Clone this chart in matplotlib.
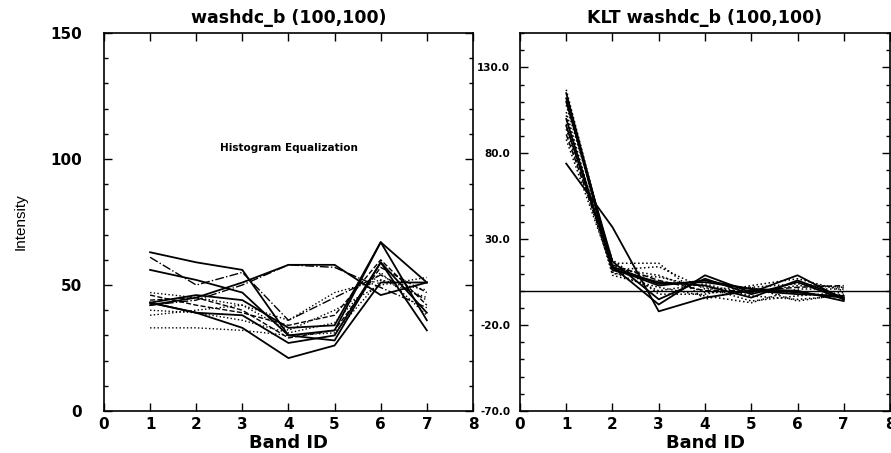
import matplotlib
matplotlib.use('Agg')
import matplotlib.pyplot as plt
from matplotlib.ticker import MultipleLocator, FixedLocator, FormatStrFormatter

plt.rcParams['font.family'] = ['DejaVu Sans']

bands = [1, 2, 3, 4, 5, 6, 7]

# Histogram equalized intensities, one list per pixel
left_lines = [
    [63, 59, 56, 30, 32, 67, 51],
    [42, 45, 51, 58, 58, 46, 51],
    [43, 39, 38, 27, 30, 59, 39],
    [43, 39, 33, 21, 26, 51, 51],
    [56, 52, 47, 30, 28, 59, 32],
    [43, 46, 44, 33, 34, 67, 36],
    [61, 50, 55, 36, 45, 54, 44],
    [47, 45, 42, 36, 47, 52, 48],
    [33, 33, 32, 30, 31, 52, 45],
    [38, 40, 42, 32, 40, 50, 53],
    [44, 45, 40, 29, 32, 57, 47],
    [42, 44, 50, 58, 57, 49, 41],
    [40, 39, 36, 31, 35, 55, 38],
    [46, 42, 39, 34, 38, 60, 42],
]
left_styles = ['-', '-', '-', '-', '-', '-', '-.', ':', ':', ':', '--', '-.', ':', '--']

# KLT transformed values, one list per pixel
right_lines = [
    [74, 37, -12, -4, 0, -2, -3],
    [115, 14, -8, 9, -1, 9, -5],
    [112, 12, 5, 3, -4, 6, -4],
    [108, 16, 16, -5, 2, 4, 2],
    [104, 10, 8, 2, -6, -3, -1],
    [100, 13, 3, 6, 1, 0, -6],
    [97, 18, -2, -2, 3, 7, 0],
    [94, 11, 0, 4, -3, -5, -3],
    [91, 15, 6, 0, 0, 2, 3],
    [88, 12, 14, 1, 2, -6, -2],
    [110, 17, -5, 7, -2, 5, -5],
    [102, 9, 2, -3, -7, 1, 1],
    [96, 14, 4, 5, 1, -1, -4],
    [117, 13, 9, -1, -1, 3, 2],
]
right_styles = ['-', '-', '-', ':', ':', '-', ':', ':', '--', ':', '-', ':', '-', ':']

fig = plt.figure(figsize=(8.91, 4.53), dpi=100)
ax1 = fig.add_axes([0.1167, 0.0927, 0.4141, 0.8344])
ax2 = fig.add_axes([0.5836, 0.0927, 0.4153, 0.8344])

for vals, ls in zip(left_lines, left_styles):
    lw = 1.3 if ls == '-' else 1.0
    ax1.plot(bands, vals, color='black', linestyle=ls, lw=lw)

for vals, ls in zip(right_lines, right_styles):
    lw = 1.3 if ls == '-' else 1.1
    ax2.plot(bands, vals, color='black', linestyle=ls, lw=lw)
ax2.axhline(0, color='black', lw=1.0)

ax1.set_xlim(0, 8)
ax1.set_ylim(0, 150)
ax1.yaxis.set_major_locator(MultipleLocator(50))
ax1.yaxis.set_minor_locator(MultipleLocator(10))
ax1.xaxis.set_major_locator(MultipleLocator(1))

ax2.set_xlim(0, 8)
ax2.set_ylim(-70, 150)
ax2.yaxis.set_major_locator(FixedLocator([-70, -20, 30, 80, 130]))
ax2.yaxis.set_minor_locator(MultipleLocator(10))
ax2.yaxis.set_major_formatter(FormatStrFormatter('%.1f'))
ax2.xaxis.set_major_locator(MultipleLocator(1))

for ax in (ax1, ax2):
    ax.tick_params(which='both', direction='in', top=True, right=True, width=1.0)
    ax.tick_params(which='major', length=5.5)
    ax.tick_params(which='minor', length=3)
    ax.tick_params(axis='x', labelsize=11, pad=4)
    for lab in ax.get_xticklabels() + ax.get_yticklabels():
        lab.set_fontweight('bold')
    for s in ax.spines.values():
        s.set_linewidth(1.2)
    ax.set_xlabel('Band ID', fontsize=13, fontweight='bold', labelpad=2)

ax1.tick_params(axis='y', labelsize=11, pad=16)
ax2.tick_params(axis='y', labelsize=7.5, pad=7)

ax1.set_title('washdc_b (100,100)', fontsize=12.5, fontweight='bold', pad=7)
ax2.set_title('KLT washdc_b (100,100)', fontsize=12.5, fontweight='bold', pad=7)
ax1.set_ylabel('Intensity', fontsize=11,
               family=['Liberation Sans Narrow', 'Liberation Sans', 'DejaVu Sans'],
               labelpad=16)
ax1.text(4.0, 104.5, 'Histogram Equalization', fontsize=7.5, fontweight='bold',
         ha='center', va='center')

fig.savefig('out.png', dpi=100)
